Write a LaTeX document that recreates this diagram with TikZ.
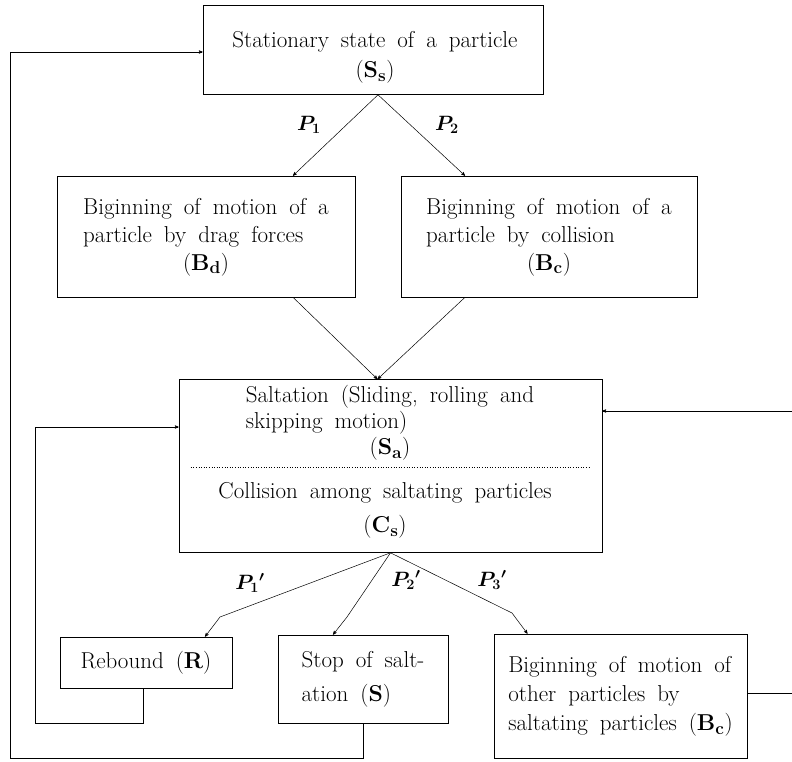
\documentclass[tikz,border=0pt]{standalone}
\usepackage{amsmath}
\usetikzlibrary{arrows}

\newcommand{\boxfont}{\fontsize{23}{28}\selectfont\spaceskip=12pt plus 2pt minus 2pt\relax}
\newcommand{\bsub}[2]{(\textbf{#1}$_{\mathbf{#2}}$)}

\tikzset{
  box/.style={draw, line width=0.6pt, inner sep=0pt, font=\boxfont},
  flow/.style={line width=0.5pt},
  plabel/.style={font=\fontsize{20}{24}\selectfont\boldmath}
}

\begin{document}
\begin{tikzpicture}[x=1pt, y=-1pt, >=stealth']
\useasboundingbox (0,0) rectangle (792,762);

% boxes
\node[box, minimum width=340pt, minimum height=89pt] (ss) at (373,50) {};
\node[font=\boxfont] (sstxt) at (375,57)
  {\begin{tabular}{@{}c@{}}Stationary state of a particle\\[2pt]\bsub{S}{s}\end{tabular}};
\node[box, minimum width=298pt, minimum height=121pt] (bd) at (206,236.5)
  {\begin{tabular}{@{}l@{}}Biginning of motion of a\\particle by drag forces\\\multicolumn{1}{@{}c@{}}{\bsub{B}{d}}\end{tabular}};
\node[box, minimum width=296pt, minimum height=121pt] (bc) at (549,236.5)
  {\begin{tabular}{@{}l@{}}Biginning of motion of a\\particle by collision\\\multicolumn{1}{@{}c@{}}{\bsub{B}{c}}\end{tabular}};
\node[box, minimum width=423pt, minimum height=173pt] (sa) at (390.5,466) {};
\node[font=\boxfont] (satxt) at (390,423)
  {\begin{tabular}{@{}l@{}}Saltation (Sliding, rolling and\\[-2pt]skipping motion)\\[-2pt]\multicolumn{1}{@{}c@{}}{\bsub{S}{a}}\end{tabular}};
\node[font=\boxfont] (cstxt) at (385,510)
  {\begin{tabular}{@{}c@{}}Collision among saltating particles\\[6pt]\bsub{C}{s}\end{tabular}};
\draw[dotted, line width=0.6pt] ([xshift=12,yshift=-1]sa.west) -- ([xshift=-12,yshift=-1]sa.east);
\node[box, minimum width=172pt, minimum height=51pt] (rb) at (146,662.5) {Rebound (\textbf{R})};
\node[box, minimum width=170pt, minimum height=88pt] (st) at (363,679)
  {\begin{tabular}{@{}l@{}}Stop of salt-\\[6pt]ation (\textbf{S})\end{tabular}};
\node[box, minimum width=253pt, minimum height=124pt] (bo) at (620.5,696)
  {\begin{tabular}{@{}l@{}}Biginning of motion of\\[1pt]other particles by\\[1pt]saltating particles \bsub{B}{c}\end{tabular}};

% probabilities
\node[plabel] (p1) at (309,125) {$P_1$};
\node[plabel] (p2) at (447,125) {$P_2$};
\node[plabel] (q1) at (250,583) {${P_1}'$};
\node[plabel] (q2) at (406,580) {${P_2}'$};
\node[plabel] (q3) at (492,580) {${P_3}'$};

% branches
\draw[flow,->] ([xshift=5]ss.south) -- ([xshift=87]bd.north);
\draw[flow,->] ([xshift=5]ss.south) -- ([xshift=-84]bc.north);
\draw[flow,->] ([xshift=87]bd.south) -- ([xshift=-13]sa.north);
\draw[flow,->] ([xshift=-84]bc.south) -- ([xshift=-13]sa.north);

\coordinate (k1) at (220,617);
\coordinate (k2) at (347,617);
\coordinate (k3) at (512,613);
\draw[flow,->] (sa.south) -- (k1) -- ([xshift=59]rb.north);
\draw[flow,->] (sa.south) -- (k2) -- ([xshift=-30]st.north);
\draw[flow,->] (sa.south) -- (k3) -- ([xshift=-93]bo.north);

% loops
\coordinate (l1) at (35,723);
\coordinate (l2) at (10,758);
\coordinate (out1) at (792,693);
\coordinate (in1) at (792,411);
\draw[flow,->] ([xshift=-3]rb.south) |- (l1) |- ([yshift=39]sa.west);
\draw[flow,->] (st.south) |- (l2) |- ([yshift=-2]ss.west);
\draw[flow] ([yshift=3]bo.east) -- (out1);
\draw[flow,->] (in1) -- ([yshift=55]sa.east);

\end{tikzpicture}
\end{document}
